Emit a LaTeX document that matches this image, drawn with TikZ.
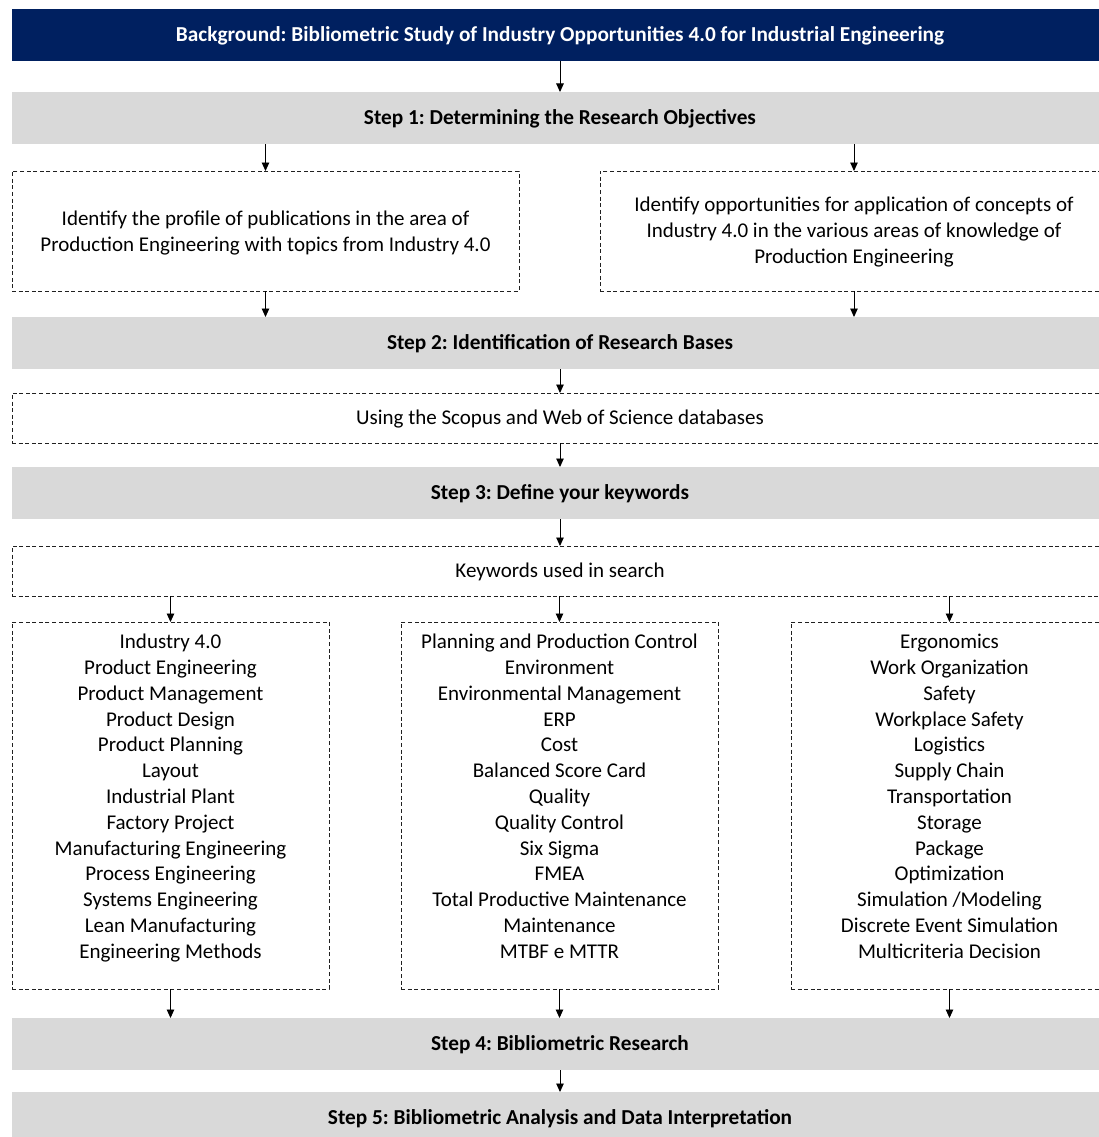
\documentclass[tikz,border=0pt]{standalone}
\usepackage{fontspec}
\setmainfont{Carlito}
\usetikzlibrary{arrows.meta}
\definecolor{navy}{HTML}{002060}
\definecolor{grayc}{HTML}{D9D9D9}
\definecolor{dashc}{HTML}{202020}
\tikzset{
  body/.style={font=\fontsize{21}{25.8}\selectfont},
  bar/.style={fill=grayc, draw=none, minimum width=1096pt, minimum height=52pt,
    anchor=north west, inner sep=0pt, outer sep=0pt,
    font=\fontsize{21.3}{25}\selectfont\bfseries, text=black,
    text height=15pt, text depth=2pt},
  hdrbox/.style={bar, fill=navy, text=white},
  dbox/.style={draw=dashc, line width=0.95pt, dash pattern=on 4pt off 2.6pt,
    anchor=north west, inner sep=0pt, outer sep=0pt, align=center, body},
  oneline/.style={text height=15pt, text depth=2pt},
  listtxt/.style={anchor=north, inner sep=0pt, align=center, body},
  arr/.style={line width=0.95pt, -{Triangle[length=8.5pt,width=7.5pt]}}
}
\begin{document}
\frenchspacing
\begin{tikzpicture}[x=1pt,y=-1pt]
\useasboundingbox (0,0) rectangle (1099,1137);
\clip (0,0) rectangle (1099,1137);
\node[hdrbox] (hdr) at (12,9) {Background: Bibliometric Study of Industry Opportunities 4.0 for Industrial Engineering};
\node[bar] (s1) at (12,92) {Step 1: Determining the Research Objectives};
\node[dbox, minimum width=507pt, minimum height=120pt] (b1L) at (12,171)
  {\rule{0pt}{19pt}Identify the profile of publications in the area of\\Production Engineering with topics from Industry 4.0};
\node[dbox, minimum width=508pt, minimum height=120pt] (b1R) at (600,171)
  {\rule{0pt}{17pt}Identify opportunities for application of concepts of\\Industry 4.0 in the various areas of knowledge of\\Production Engineering};
\node[bar] (s2) at (12,317) {Step 2: Identification of Research Bases};
\node[dbox, oneline, minimum width=1096pt, minimum height=50pt] (scop) at (12,393) {Using the Scopus and Web of Science databases};
\node[bar] (s3) at (12,467) {Step 3: Define your keywords};
\node[dbox, oneline, minimum width=1096pt, minimum height=50pt] (kw) at (12,546) {Keywords used in search};
\node[dbox, minimum width=317pt, minimum height=367pt] (c1) at (12,622) {};
\node[dbox, minimum width=317pt, minimum height=367pt] (c2) at (401,622) {};
\node[dbox, minimum width=317pt, minimum height=367pt] (c3) at (791,622) {};
\node[listtxt] (c1t) at ([yshift=-11.5pt]c1.north) {\rule{0pt}{15pt}Industry 4.0\\Product Engineering\\Product Management\\Product Design\\Product Planning\\Layout\\Industrial Plant\\Factory Project\\Manufacturing Engineering\\Process Engineering\\Systems Engineering\\Lean Manufacturing\\Engineering Methods};
\node[listtxt] (c2t) at ([yshift=-11.5pt]c2.north) {\rule{0pt}{15pt}Planning and Production Control\\Environment\\Environmental Management\\ERP\\Cost\\Balanced Score Card\\Quality\\Quality Control\\Six Sigma\\FMEA\\Total Productive Maintenance\\Maintenance\\MTBF e MTTR};
\node[listtxt] (c3t) at ([yshift=-11.5pt]c3.north) {\rule{0pt}{15pt}Ergonomics\\Work Organization\\Safety\\Workplace Safety\\Logistics\\Supply Chain\\Transportation\\Storage\\Package\\Optimization\\Simulation /Modeling\\Discrete Event Simulation\\Multicriteria Decision};
\node[bar] (s4) at (12,1018) {Step 4: Bibliometric Research};
\node[bar] (s5) at (12,1092) {Step 5: Bibliometric Analysis and Data Interpretation};
% connectors
\draw[arr] (hdr.south) -- (s1.north);
\draw[arr] (b1L.north |- s1.south) -- (b1L.north);
\draw[arr] (b1R.north |- s1.south) -- (b1R.north);
\draw[arr] (b1L.south) -- (b1L.south |- s2.north);
\draw[arr] (b1R.south) -- (b1R.south |- s2.north);
\draw[arr] (s2.south) -- (scop.north);
\draw[arr] (scop.south) -- (s3.north);
\draw[arr] (s3.south) -- (kw.north);
\draw[arr] (kw.south -| c1.north) -- (c1.north);
\draw[arr] (kw.south -| c2.north) -- (c2.north);
\draw[arr] (kw.south -| c3.north) -- (c3.north);
\draw[arr] (c1.south) -- (c1.south |- s4.north);
\draw[arr] (c2.south) -- (c2.south |- s4.north);
\draw[arr] (c3.south) -- (c3.south |- s4.north);
\draw[arr] (s4.south) -- (s5.north);
\end{tikzpicture}
\end{document}
